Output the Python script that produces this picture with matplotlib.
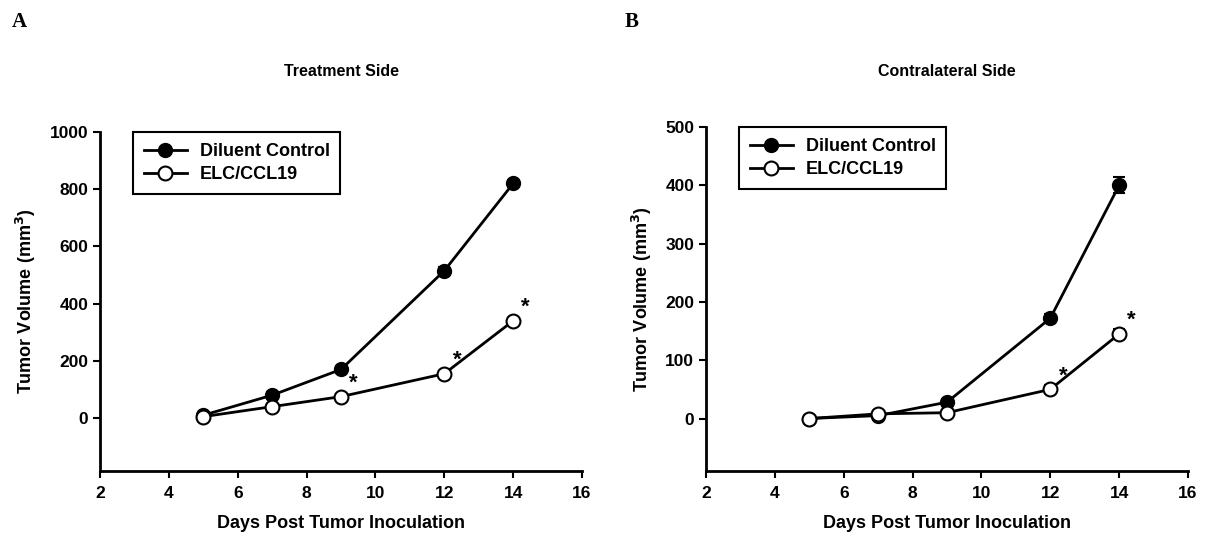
import matplotlib
matplotlib.use("Agg")
import matplotlib.pyplot as plt
from matplotlib.lines import Line2D

plt.rcParams['font.family'] = ['Liberation Sans', 'DejaVu Sans']
plt.rcParams['font.weight'] = 'bold'

days = [5, 7, 9, 12, 14]

# panel A: treatment side
a_ctrl = [10, 80, 170, 515, 820]
a_ctrl_err = [8, 10, 12, 12, 12]
a_elc = [5, 40, 75, 155, 340]
a_elc_err = [5, 8, 8, 10, 10]
a_star = [9, 12, 14]

# panel B: contralateral side
b_ctrl = [0, 5, 28, 172, 400]
b_ctrl_err = [2, 3, 5, 8, 14]
b_elc = [0, 8, 10, 50, 145]
b_elc_err = [2, 3, 4, 7, 9]
b_star = [12, 14]

xticks = [2, 4, 6, 8, 10, 12, 14, 16]

fig = plt.figure(figsize=(12.12, 5.4), dpi=100)
ax1 = fig.add_axes([100/1212, 1-471/540, 482/1212, 339/540])
ax2 = fig.add_axes([706/1212, 1-471/540, 482/1212, 344/540])


def draw(ax, ctrl, ctrl_err, elc, elc_err, stars, ylim, yticks):
    ax.errorbar(days, ctrl, yerr=ctrl_err, color='black', lw=2, marker='o',
                ms=10, mfc='black', mec='black', capsize=4, capthick=1.5,
                elinewidth=1.5, zorder=3)
    ax.errorbar(days, elc, yerr=elc_err, color='black', lw=2, marker='o',
                ms=10, mfc='white', mec='black', mew=1.5, capsize=4,
                capthick=1.5, elinewidth=1.5, zorder=4)
    for d in stars:
        y = elc[days.index(d)]
        ax.annotate('*', (d, y), xytext=(6, 2), textcoords='offset points',
                    fontsize=16, fontweight='bold', ha='left', va='bottom')
    ax.set_xlim(2, 16)
    ax.set_ylim(*ylim)
    ax.set_xticks(xticks)
    ax.set_yticks(yticks)
    for s in ['top', 'right']:
        ax.spines[s].set_visible(False)
    for s in ['left', 'bottom']:
        ax.spines[s].set_linewidth(2)
    ax.tick_params(width=1.5, length=5, labelsize=12.5)
    ax.tick_params(axis='x', pad=6)
    for lab in ax.get_xticklabels() + ax.get_yticklabels():
        lab.set_fontweight('bold')
    ax.set_xlabel('Days Post Tumor Inoculation', fontsize=13,
                  fontweight='bold', labelpad=10)
    ax.set_ylabel('Tumor Volume (mm$^\\mathbf{3}$)', fontsize=13,
                  fontweight='bold', labelpad=8)
    handles = [
        Line2D([], [], color='black', lw=2, marker='o', ms=10, mfc='black'),
        Line2D([], [], color='black', lw=2, marker='o', ms=10, mfc='white',
               mew=1.5),
    ]
    leg = ax.legend(handles, ['Diluent Control', 'ELC/CCL19'],
                    loc='upper left', bbox_to_anchor=(0.068, 1.0),
                    borderaxespad=0, fancybox=False, edgecolor='black',
                    fontsize=13, handlelength=2.4, handletextpad=0.7,
                    borderpad=0.6, labelspacing=0.35, framealpha=1)
    leg.get_frame().set_linewidth(1.5)
    for t in leg.get_texts():
        t.set_fontweight('bold')


draw(ax1, a_ctrl, a_ctrl_err, a_elc, a_elc_err, a_star, (-185, 1000),
     [0, 200, 400, 600, 800, 1000])
draw(ax2, b_ctrl, b_ctrl_err, b_elc, b_elc_err, b_star, (-90, 500),
     [0, 100, 200, 300, 400, 500])

fig.text(341/1212, 1-72/540, 'Treatment Side', ha='center', va='center',
         fontsize=11.5, fontweight='bold')
fig.text(947/1212, 1-72/540, 'Contralateral Side', ha='center', va='center',
         fontsize=11.5, fontweight='bold')

fig.text(12/1212, 1-27/540, 'A', family='Liberation Serif', fontsize=15,
         fontweight='bold')
fig.text(625/1212, 1-27/540, 'B', family='Liberation Serif', fontsize=15,
         fontweight='bold')

fig.savefig('out.png', dpi=100)
